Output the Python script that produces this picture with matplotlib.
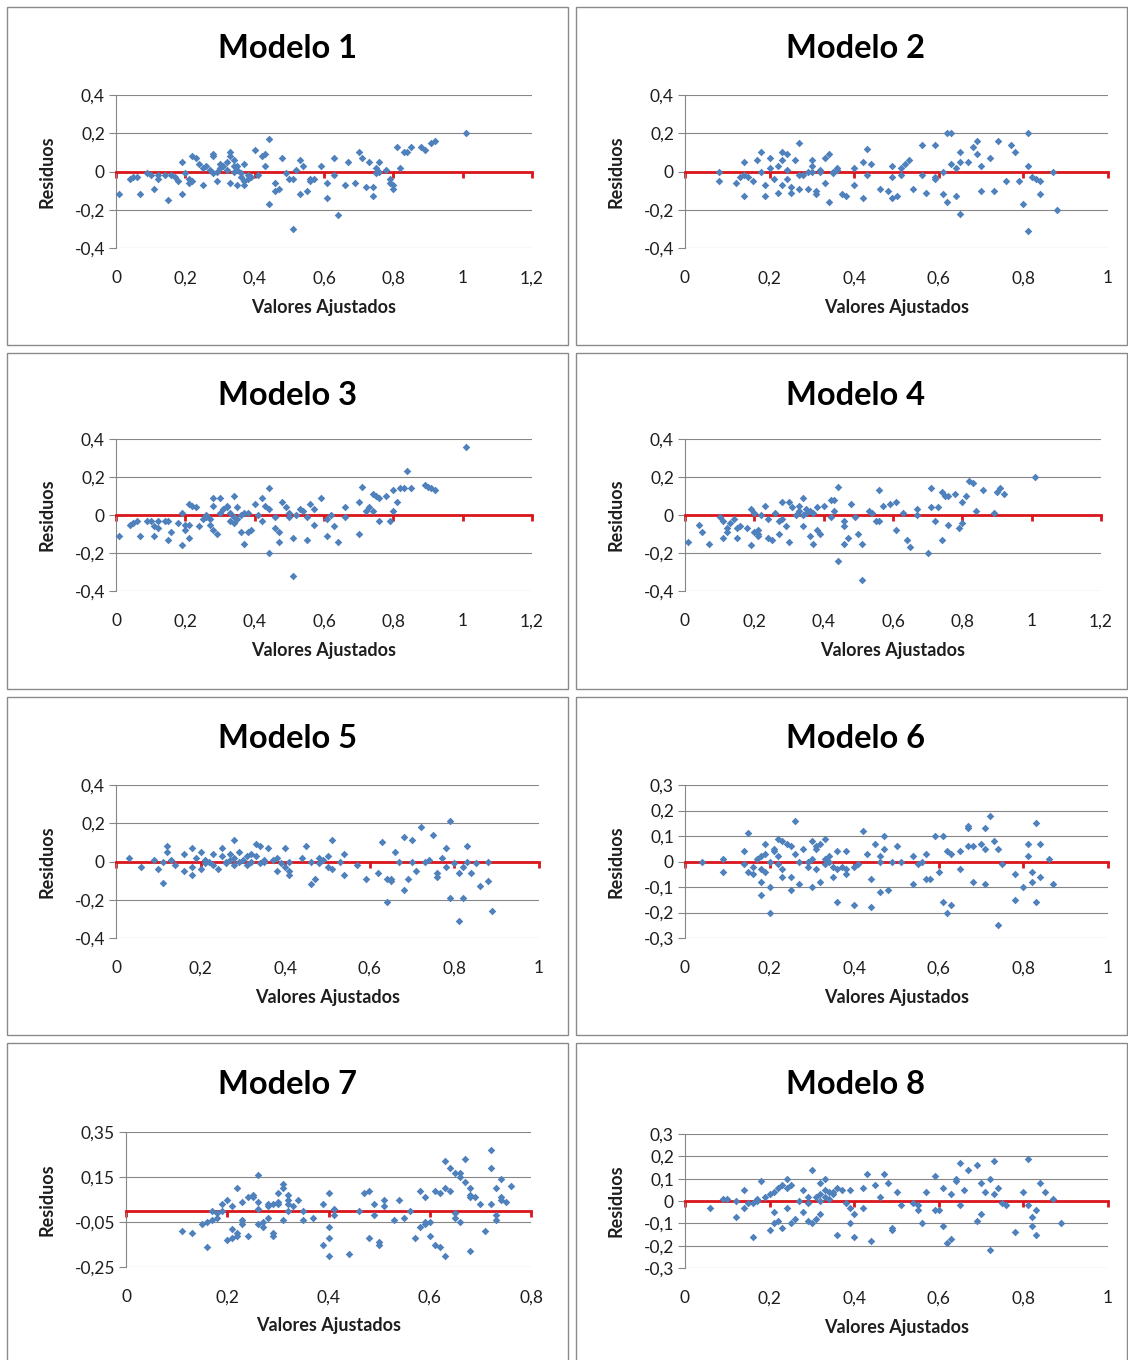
import matplotlib.pyplot as plt
from matplotlib.patches import Rectangle

# residuos vs valores ajustados (x = ajustado, y = residuo)
modelo1 = [(0.01, -0.12), (0.04, -0.04), (0.05, -0.03), (0.06, -0.03), (0.07, -0.12), (0.09, -0.01), (0.10, -0.02),
           (0.11, -0.09), (0.12, -0.04), (0.12, -0.02), (0.14, -0.02), (0.15, -0.15), (0.16, -0.02), (0.17, -0.03),
           (0.18, -0.05), (0.19, -0.12), (0.19, 0.05), (0.20, -0.01), (0.21, -0.06), (0.21, -0.04), (0.22, 0.08),
           (0.22, -0.05), (0.23, 0.07), (0.24, 0.04), (0.25, -0.07), (0.25, 0.02), (0.26, 0.03), (0.27, 0.01),
           (0.28, 0.08), (0.28, 0.09), (0.28, -0.01), (0.29, 0.0), (0.29, -0.05), (0.30, 0.04), (0.30, 0.02),
           (0.31, 0.03), (0.32, 0.05), (0.32, 0.01), (0.33, 0.08), (0.33, 0.10), (0.33, -0.06), (0.34, 0.03),
           (0.34, 0.0), (0.34, 0.06), (0.35, 0.01), (0.35, -0.07), (0.35, 0.03), (0.36, -0.03), (0.36, -0.01),
           (0.37, -0.05), (0.37, 0.04), (0.37, -0.07), (0.38, -0.02), (0.38, -0.04), (0.39, -0.03), (0.40, 0.11),
           (0.41, -0.02), (0.42, 0.08), (0.43, 0.03), (0.43, 0.09), (0.44, 0.17), (0.44, -0.17), (0.46, -0.06),
           (0.46, -0.10), (0.47, -0.09), (0.48, 0.07), (0.49, -0.01), (0.50, -0.04), (0.51, -0.04), (0.51, -0.30),
           (0.52, 0.01), (0.53, -0.12), (0.53, 0.06), (0.54, 0.03), (0.55, -0.10), (0.56, -0.04), (0.56, -0.05),
           (0.57, -0.04), (0.59, 0.03), (0.61, -0.14), (0.61, -0.06), (0.63, 0.07), (0.63, -0.02), (0.64, -0.23),
           (0.66, -0.07), (0.67, 0.05), (0.69, -0.06), (0.70, 0.10), (0.71, 0.07), (0.72, -0.08), (0.73, 0.05),
           (0.74, -0.08), (0.74, -0.13), (0.75, 0.02), (0.75, -0.01), (0.76, 0.0), (0.76, 0.05), (0.78, 0.01),
           (0.79, -0.04), (0.79, -0.06), (0.80, -0.09), (0.80, -0.07), (0.81, 0.13), (0.82, 0.02), (0.83, 0.10),
           (0.84, 0.10), (0.85, 0.13), (0.88, 0.13), (0.89, 0.11), (0.91, 0.15), (0.92, 0.16), (1.01, 0.20)]

modelo2 = [(0.08, 0.0), (0.08, -0.05), (0.12, -0.06), (0.13, -0.03), (0.14, -0.13), (0.14, 0.05), (0.14, -0.02),
           (0.15, -0.03), (0.16, -0.05), (0.17, 0.06), (0.18, 0.10), (0.18, 0.0), (0.19, -0.13), (0.19, -0.07),
           (0.20, 0.07), (0.20, 0.02), (0.21, -0.04), (0.22, -0.11), (0.22, 0.03), (0.23, 0.10), (0.23, -0.07),
           (0.23, 0.06), (0.24, 0.09), (0.24, -0.04), (0.24, 0.01), (0.25, -0.08), (0.25, -0.11), (0.26, 0.06),
           (0.27, 0.15), (0.27, -0.02), (0.27, -0.09), (0.28, -0.02), (0.29, 0.0), (0.29, -0.09), (0.30, 0.06),
           (0.30, 0.03), (0.30, 0.0), (0.31, -0.10), (0.31, -0.12), (0.32, 0.01), (0.32, 0.0), (0.33, 0.07),
           (0.33, -0.06), (0.34, 0.09), (0.34, -0.16), (0.35, -0.01), (0.35, 0.0), (0.36, 0.02), (0.36, 0.01),
           (0.37, -0.12), (0.38, -0.13), (0.40, 0.02), (0.40, -0.07), (0.42, 0.05), (0.42, -0.14), (0.43, 0.12),
           (0.43, -0.02), (0.44, 0.04), (0.46, -0.09), (0.48, -0.10), (0.49, -0.14), (0.49, -0.03), (0.49, 0.03),
           (0.50, -0.13), (0.51, 0.02), (0.51, -0.02), (0.52, 0.04), (0.53, 0.06), (0.54, -0.09), (0.56, 0.14),
           (0.56, -0.02), (0.57, -0.11), (0.59, 0.14), (0.59, -0.04), (0.59, -0.03), (0.61, 0.0), (0.61, -0.12),
           (0.62, -0.16), (0.62, 0.20), (0.63, 0.04), (0.63, 0.20), (0.64, -0.13), (0.64, 0.02), (0.65, 0.05),
           (0.65, -0.22), (0.65, 0.10), (0.67, 0.05), (0.68, 0.13), (0.69, 0.16), (0.69, 0.09), (0.70, -0.10),
           (0.70, 0.03), (0.72, 0.07), (0.73, -0.10), (0.74, 0.16), (0.76, -0.05), (0.77, 0.14), (0.78, 0.10),
           (0.79, -0.05), (0.80, -0.17), (0.81, 0.20), (0.81, 0.03), (0.81, -0.31), (0.82, -0.03), (0.83, -0.04),
           (0.84, -0.05), (0.84, -0.12), (0.87, 0.0), (0.88, -0.20)]

modelo3 = [(0.01, -0.11), (0.04, -0.05), (0.05, -0.04), (0.06, -0.03), (0.07, -0.11), (0.09, -0.03), (0.10, -0.03),
           (0.11, -0.11), (0.11, -0.06), (0.12, -0.07), (0.12, -0.03), (0.14, -0.03), (0.15, -0.13), (0.15, -0.03),
           (0.16, -0.09), (0.18, -0.04), (0.19, -0.16), (0.19, 0.01), (0.20, -0.05), (0.20, -0.08), (0.21, -0.12),
           (0.21, -0.05), (0.21, 0.06), (0.22, 0.05), (0.23, 0.04), (0.24, -0.06), (0.25, -0.02), (0.26, -0.01),
           (0.26, 0.0), (0.27, -0.05), (0.27, -0.02), (0.28, 0.05), (0.28, 0.09), (0.28, -0.08), (0.29, -0.10),
           (0.30, 0.09), (0.30, 0.01), (0.31, 0.03), (0.32, 0.05), (0.32, 0.04), (0.33, 0.01), (0.33, -0.03),
           (0.34, 0.10), (0.34, -0.04), (0.34, -0.01), (0.35, -0.02), (0.35, 0.04), (0.36, -0.09), (0.36, 0.0),
           (0.37, -0.15), (0.37, 0.01), (0.38, -0.09), (0.38, 0.01), (0.39, -0.08), (0.40, 0.06), (0.41, 0.0),
           (0.42, 0.09), (0.42, -0.03), (0.43, 0.05), (0.44, 0.14), (0.44, 0.03), (0.44, -0.20), (0.46, -0.01),
           (0.46, -0.07), (0.47, -0.09), (0.47, -0.14), (0.48, 0.07), (0.49, 0.04), (0.50, 0.01), (0.50, -0.01),
           (0.51, -0.32), (0.51, -0.12), (0.52, 0.0), (0.53, 0.03), (0.54, 0.02), (0.55, -0.13), (0.55, -0.01),
           (0.56, 0.06), (0.57, 0.03), (0.57, -0.05), (0.59, 0.09), (0.61, -0.11), (0.61, -0.02), (0.62, 0.0),
           (0.63, -0.06), (0.64, -0.14), (0.66, -0.01), (0.66, 0.04), (0.70, -0.10), (0.70, 0.07), (0.71, 0.15),
           (0.72, 0.02), (0.73, 0.04), (0.74, 0.02), (0.74, 0.11), (0.75, 0.10), (0.76, 0.09), (0.76, -0.03),
           (0.78, 0.10), (0.79, -0.03), (0.80, 0.02), (0.80, 0.13), (0.81, 0.07), (0.82, 0.14), (0.83, 0.14),
           (0.84, 0.23), (0.85, 0.14), (0.89, 0.16), (0.90, 0.15), (0.91, 0.14), (0.92, 0.13), (1.01, 0.36)]

modelo4 = [(0.01, -0.14), (0.04, -0.05), (0.05, -0.09), (0.07, -0.15), (0.10, -0.01), (0.11, -0.12), (0.11, -0.03),
           (0.12, -0.07), (0.12, -0.09), (0.13, -0.04), (0.14, -0.02), (0.15, -0.12), (0.15, -0.07), (0.16, -0.06),
           (0.18, -0.07), (0.19, -0.16), (0.19, 0.03), (0.20, 0.01), (0.20, -0.09), (0.21, -0.10), (0.21, -0.11),
           (0.21, -0.08), (0.22, 0.0), (0.23, 0.05), (0.24, -0.12), (0.24, -0.02), (0.25, -0.13), (0.26, 0.01),
           (0.27, -0.03), (0.27, -0.10), (0.28, 0.07), (0.28, -0.02), (0.29, -0.06), (0.30, -0.14), (0.30, 0.07),
           (0.31, 0.04), (0.32, 0.0), (0.33, 0.05), (0.33, 0.02), (0.34, 0.09), (0.34, 0.0), (0.34, -0.06),
           (0.35, 0.03), (0.35, 0.01), (0.36, 0.02), (0.36, -0.11), (0.37, 0.01), (0.37, -0.15), (0.38, 0.04),
           (0.38, -0.08), (0.39, -0.10), (0.40, 0.05), (0.42, 0.08), (0.42, -0.01), (0.43, 0.08), (0.43, 0.02),
           (0.44, 0.15), (0.44, -0.24), (0.46, -0.06), (0.46, -0.03), (0.46, -0.15), (0.47, -0.12), (0.48, 0.06),
           (0.49, -0.01), (0.50, -0.10), (0.51, -0.34), (0.51, -0.15), (0.53, 0.02), (0.54, 0.01), (0.55, -0.03),
           (0.56, 0.13), (0.56, -0.03), (0.57, 0.05), (0.59, 0.06), (0.61, -0.08), (0.61, 0.07), (0.63, 0.01),
           (0.64, -0.13), (0.65, -0.17), (0.67, 0.0), (0.67, 0.03), (0.70, -0.20), (0.71, 0.04), (0.71, 0.14),
           (0.72, -0.03), (0.73, 0.04), (0.74, -0.13), (0.74, 0.12), (0.75, 0.10), (0.76, -0.05), (0.76, 0.10),
           (0.78, 0.11), (0.79, -0.07), (0.80, 0.07), (0.80, -0.04), (0.81, 0.10), (0.82, 0.18), (0.83, 0.17),
           (0.84, 0.02), (0.86, 0.13), (0.89, 0.01), (0.90, 0.12), (0.91, 0.14), (0.92, 0.11), (1.01, 0.20)]

modelo5 = [(0.03, 0.02), (0.06, -0.03), (0.09, 0.01), (0.10, -0.04), (0.11, -0.11), (0.11, 0.0), (0.12, 0.08),
           (0.12, 0.05), (0.13, 0.01), (0.14, -0.02), (0.16, 0.04), (0.16, -0.05), (0.18, 0.07), (0.18, -0.07),
           (0.18, -0.03), (0.19, 0.02), (0.20, -0.04), (0.20, 0.05), (0.21, 0.01), (0.21, -0.01), (0.22, 0.0),
           (0.23, -0.02), (0.23, 0.04), (0.24, -0.04), (0.25, 0.07), (0.25, 0.03), (0.26, -0.01), (0.26, 0.0),
           (0.27, 0.01), (0.27, 0.04), (0.28, 0.11), (0.28, 0.02), (0.28, -0.02), (0.29, 0.05), (0.29, 0.0),
           (0.30, 0.01), (0.31, -0.02), (0.31, 0.03), (0.32, 0.04), (0.32, 0.0), (0.33, 0.09), (0.33, 0.03),
           (0.34, 0.08), (0.34, -0.01), (0.35, 0.01), (0.35, 0.0), (0.36, 0.07), (0.37, 0.01), (0.38, -0.05),
           (0.38, 0.02), (0.39, -0.01), (0.40, 0.07), (0.40, -0.03), (0.41, -0.07), (0.41, 0.0), (0.41, -0.05),
           (0.44, 0.02), (0.45, 0.08), (0.46, 0.0), (0.46, -0.12), (0.47, -0.09), (0.48, 0.02), (0.48, -0.01),
           (0.49, 0.01), (0.50, 0.03), (0.50, -0.03), (0.51, -0.04), (0.51, 0.11), (0.53, 0.0), (0.54, -0.07),
           (0.54, 0.04), (0.57, -0.02), (0.59, -0.09), (0.62, -0.06), (0.63, 0.10), (0.64, -0.09), (0.64, -0.21),
           (0.65, -0.09), (0.65, -0.10), (0.66, 0.05), (0.67, 0.0), (0.68, 0.13), (0.68, -0.15), (0.69, -0.09),
           (0.70, 0.11), (0.70, 0.0), (0.71, -0.05), (0.72, 0.18), (0.73, 0.0), (0.74, 0.01), (0.75, 0.14),
           (0.76, -0.06), (0.76, -0.08), (0.77, 0.02), (0.78, 0.07), (0.78, -0.03), (0.79, 0.21), (0.79, -0.19),
           (0.80, -0.01), (0.81, -0.31), (0.81, -0.06), (0.82, -0.19), (0.82, -0.03), (0.83, 0.0), (0.83, 0.08),
           (0.84, -0.06), (0.85, -0.01), (0.86, -0.13), (0.88, -0.10), (0.88, 0.0), (0.89, -0.26)]

modelo6 = [(0.04, 0.0), (0.09, -0.04), (0.09, 0.01), (0.14, 0.04), (0.14, -0.01), (0.15, 0.11), (0.15, -0.04),
           (0.16, -0.05), (0.16, -0.02), (0.17, 0.01), (0.18, 0.02), (0.18, -0.08), (0.18, -0.13), (0.18, -0.03),
           (0.19, 0.03), (0.19, 0.07), (0.19, -0.04), (0.20, -0.20), (0.20, 0.0), (0.20, -0.10), (0.21, 0.04),
           (0.21, 0.05), (0.22, -0.01), (0.22, 0.02), (0.22, 0.09), (0.23, 0.08), (0.23, -0.03), (0.23, -0.06),
           (0.24, 0.07), (0.25, -0.11), (0.25, -0.06), (0.25, 0.06), (0.26, 0.16), (0.26, 0.03), (0.27, -0.09),
           (0.27, 0.0), (0.28, 0.05), (0.29, -0.02), (0.29, 0.0), (0.30, -0.10), (0.30, 0.08), (0.30, 0.01),
           (0.31, -0.03), (0.31, 0.05), (0.31, 0.06), (0.32, -0.08), (0.32, 0.07), (0.33, 0.01), (0.33, -0.01),
           (0.33, 0.09), (0.34, 0.02), (0.34, 0.0), (0.35, -0.02), (0.35, -0.06), (0.36, -0.16), (0.36, -0.03),
           (0.36, 0.04), (0.37, -0.02), (0.38, 0.04), (0.38, -0.05), (0.38, -0.03), (0.40, -0.17), (0.40, -0.02),
           (0.41, -0.01), (0.42, 0.12), (0.43, 0.03), (0.44, -0.07), (0.44, -0.18), (0.45, 0.07), (0.46, 0.02),
           (0.46, -0.12), (0.46, 0.0), (0.47, 0.10), (0.47, 0.05), (0.48, -0.11), (0.49, 0.0), (0.50, 0.06),
           (0.51, 0.0), (0.54, 0.02), (0.54, -0.09), (0.55, -0.01), (0.56, 0.0), (0.57, -0.07), (0.57, 0.03),
           (0.58, -0.07), (0.59, 0.10), (0.60, -0.04), (0.61, 0.10), (0.61, -0.16), (0.62, -0.20), (0.62, 0.04),
           (0.63, 0.03), (0.63, -0.17), (0.65, 0.04), (0.65, -0.03), (0.67, 0.06), (0.67, 0.13), (0.67, 0.14),
           (0.68, 0.06), (0.68, -0.08), (0.70, 0.07), (0.71, 0.13), (0.71, 0.05), (0.71, -0.09), (0.72, 0.18),
           (0.73, 0.08), (0.74, 0.05), (0.74, -0.25), (0.75, -0.01), (0.78, -0.05), (0.78, -0.15), (0.80, -0.10),
           (0.81, 0.07), (0.81, 0.02), (0.82, -0.04), (0.82, -0.08), (0.83, 0.15), (0.83, -0.16), (0.84, -0.06),
           (0.84, 0.07), (0.86, 0.01), (0.87, -0.09)]

modelo7 = [(0.11, -0.09), (0.13, -0.10), (0.15, -0.06), (0.16, -0.05), (0.16, -0.16), (0.17, -0.04), (0.17, 0.0),
           (0.18, -0.03), (0.18, -0.01), (0.19, 0.0), (0.19, 0.03), (0.20, 0.05), (0.20, -0.13), (0.21, -0.12),
           (0.21, 0.02), (0.21, -0.08), (0.22, -0.11), (0.22, -0.10), (0.22, 0.10), (0.23, -0.04), (0.23, -0.06),
           (0.23, 0.04), (0.24, 0.06), (0.24, -0.11), (0.25, 0.06), (0.25, 0.07), (0.26, 0.04), (0.26, 0.16),
           (0.26, 0.01), (0.26, -0.06), (0.27, -0.07), (0.27, -0.05), (0.28, 0.02), (0.28, -0.03), (0.28, 0.03),
           (0.29, -0.11), (0.29, -0.10), (0.29, 0.03), (0.30, 0.03), (0.30, 0.08), (0.30, 0.04), (0.31, -0.04),
           (0.31, 0.12), (0.31, 0.10), (0.32, 0.0), (0.32, 0.05), (0.32, 0.03), (0.32, 0.07), (0.33, 0.02),
           (0.34, 0.05), (0.35, 0.0), (0.35, -0.04), (0.37, -0.03), (0.39, -0.15), (0.39, 0.03), (0.40, -0.20),
           (0.40, 0.08), (0.40, -0.07), (0.40, -0.12), (0.41, -0.02), (0.41, 0.01), (0.44, -0.19), (0.46, 0.0),
           (0.47, 0.08), (0.48, 0.09), (0.48, -0.12), (0.49, 0.03), (0.49, -0.02), (0.50, -0.14), (0.50, -0.15),
           (0.51, 0.05), (0.51, 0.02), (0.53, -0.04), (0.54, 0.05), (0.55, -0.03), (0.56, 0.0), (0.57, -0.12),
           (0.58, -0.07), (0.58, 0.09), (0.59, -0.06), (0.59, -0.05), (0.59, 0.06), (0.60, -0.05), (0.60, -0.11),
           (0.61, 0.09), (0.61, -0.15), (0.62, -0.16), (0.62, 0.08), (0.63, 0.22), (0.63, 0.10), (0.63, -0.20),
           (0.64, 0.09), (0.64, 0.19), (0.65, 0.17), (0.65, -0.03), (0.65, -0.01), (0.66, 0.15), (0.66, -0.05),
           (0.66, 0.17), (0.67, 0.13), (0.67, 0.23), (0.68, 0.10), (0.68, 0.06), (0.68, 0.07), (0.68, -0.18),
           (0.69, 0.06), (0.70, 0.03), (0.71, -0.09), (0.72, 0.27), (0.72, 0.19), (0.72, 0.03), (0.73, -0.02),
           (0.73, -0.04), (0.73, 0.10), (0.74, 0.05), (0.74, 0.06), (0.74, 0.14), (0.75, 0.04), (0.76, 0.11)]

modelo8 = [(0.06, -0.03), (0.09, 0.01), (0.10, 0.01), (0.12, -0.07), (0.12, 0.0), (0.14, -0.03), (0.14, 0.05),
           (0.15, -0.01), (0.16, -0.16), (0.16, -0.01), (0.17, 0.01), (0.17, 0.0), (0.18, 0.09), (0.19, 0.02),
           (0.20, -0.13), (0.20, 0.03), (0.21, 0.04), (0.21, -0.05), (0.21, -0.10), (0.22, 0.06), (0.22, -0.09),
           (0.23, 0.07), (0.23, -0.12), (0.24, 0.10), (0.24, -0.03), (0.24, 0.06), (0.25, 0.07), (0.25, -0.10),
           (0.26, -0.08), (0.27, 0.0), (0.28, 0.05), (0.28, -0.05), (0.29, -0.09), (0.29, -0.01), (0.29, 0.02),
           (0.30, 0.14), (0.30, -0.10), (0.31, -0.08), (0.31, 0.02), (0.32, 0.0), (0.32, 0.08), (0.32, -0.06),
           (0.32, 0.03), (0.33, 0.05), (0.33, 0.02), (0.33, 0.10), (0.34, 0.04), (0.34, 0.01), (0.35, 0.03),
           (0.35, 0.04), (0.36, 0.06), (0.36, -0.15), (0.37, 0.05), (0.38, -0.01), (0.39, 0.05), (0.39, -0.03),
           (0.39, -0.10), (0.40, -0.06), (0.40, -0.16), (0.42, 0.06), (0.42, -0.03), (0.43, 0.12), (0.44, -0.18),
           (0.45, 0.07), (0.46, 0.02), (0.47, 0.12), (0.48, 0.08), (0.49, -0.13), (0.49, -0.12), (0.50, 0.04),
           (0.51, -0.02), (0.54, -0.01), (0.55, -0.04), (0.55, -0.02), (0.56, -0.10), (0.57, 0.04), (0.59, 0.11),
           (0.59, -0.04), (0.60, -0.04), (0.61, 0.06), (0.61, -0.11), (0.62, -0.19), (0.63, -0.17), (0.63, 0.03),
           (0.64, 0.09), (0.64, 0.10), (0.65, -0.02), (0.65, 0.17), (0.66, 0.05), (0.67, 0.14), (0.69, 0.16),
           (0.69, -0.09), (0.70, 0.08), (0.70, -0.06), (0.71, 0.04), (0.72, 0.10), (0.72, -0.22), (0.73, 0.03),
           (0.73, 0.18), (0.74, 0.06), (0.75, -0.01), (0.76, -0.02), (0.78, -0.14), (0.80, 0.04), (0.81, 0.19),
           (0.81, -0.02), (0.82, -0.07), (0.82, -0.11), (0.83, -0.04), (0.83, -0.15), (0.84, 0.08), (0.85, 0.04),
           (0.87, 0.01), (0.89, -0.10)]

titulos = ['Modelo 1', 'Modelo 2', 'Modelo 3', 'Modelo 4', 'Modelo 5', 'Modelo 6', 'Modelo 7', 'Modelo 8']
datos = [modelo1, modelo2, modelo3, modelo4, modelo5, modelo6, modelo7, modelo8]

xt_12 = [0, 0.2, 0.4, 0.6, 0.8, 1.0, 1.2]
xl_12 = ['0', '0,2', '0,4', '0,6', '0,8', '1', '1,2']
xt_10 = [0, 0.2, 0.4, 0.6, 0.8, 1.0]
xl_10 = ['0', '0,2', '0,4', '0,6', '0,8', '1']
xt_08 = [0, 0.2, 0.4, 0.6, 0.8]
xl_08 = ['0', '0,2', '0,4', '0,6', '0,8']
yt_04 = [-0.4, -0.2, 0, 0.2, 0.4]
yl_04 = ['-0,4', '-0,2', '0', '0,2', '0,4']
yt_03 = [-0.3, -0.2, -0.1, 0, 0.1, 0.2, 0.3]
yl_03 = ['-0,3', '-0,2', '-0,1', '0', '0,1', '0,2', '0,3']
yt_35 = [-0.25, -0.05, 0.15, 0.35]
yl_35 = ['-0,25', '-0,05', '0,15', '0,35']

ejes_x = [(xt_12, xl_12), (xt_10, xl_10), (xt_12, xl_12), (xt_12, xl_12),
          (xt_10, xl_10), (xt_10, xl_10), (xt_08, xl_08), (xt_10, xl_10)]
ejes_y = [(yt_04, yl_04), (yt_04, yl_04), (yt_04, yl_04), (yt_04, yl_04),
          (yt_04, yl_04), (yt_03, yl_03), (yt_35, yl_35), (yt_03, yl_03)]

# area de trazado de cada grafico en pixeles: izquierda, derecha, arriba, abajo
areas = [(116, 532, 95, 248), (685, 1108, 95, 248),
         (116, 532, 439, 591), (685, 1101, 439, 591),
         (116, 539, 785, 938), (685, 1108, 785, 938),
         (126, 531, 1132, 1267), (685, 1108, 1134, 1268)]
cajas_x = [(7, 568), (576, 1127)]
cajas_y = [(7, 345), (353, 689), (697, 1035), (1043, 1380)]
titulo_x = [287, 856]
etiqueta_y_x = [47, 616]

W, H = 1128, 1360
AZUL = '#4F81BD'
ROJO = '#D9161B'
GRIS = '#868686'
TEXTO = '#1e1e1e'

plt.rcParams['font.family'] = ['Lato', 'DejaVu Sans']
fig = plt.figure(figsize=(W / 100, H / 100), dpi=100)

for fila in range(4):
    for col in range(2):
        x0, x1 = cajas_x[col]
        y0, y1 = cajas_y[fila]
        fig.patches.append(Rectangle((x0 / W, 1 - y1 / H), (x1 - x0) / W, (y1 - y0) / H,
                                     transform=fig.transFigure, fill=False,
                                     edgecolor='#8a8a8a', linewidth=1))

for i in range(8):
    fila, col = divmod(i, 2)
    l, r, t, b = areas[i]
    ax = fig.add_axes([l / W, 1 - b / H, (r - l) / W, (b - t) / H])
    xs = [p[0] for p in datos[i]]
    ys = [p[1] for p in datos[i]]
    ax.scatter(xs, ys, marker='D', s=15, color=AZUL, linewidths=0, zorder=3, clip_on=False)

    xt, xl = ejes_x[i]
    yt, yl = ejes_y[i]
    ax.set_xlim(xt[0], xt[-1])
    ax.set_ylim(yt[0], yt[-1])
    ax.set_yticks(yt, yl)
    ax.set_xticks(xt)
    ax.yaxis.grid(True, color=GRIS, linewidth=0.8)
    ax.set_axisbelow(True)

    for s in ['top', 'right']:
        ax.spines[s].set_visible(False)
    ax.spines['left'].set_color(GRIS)
    ax.spines['left'].set_linewidth(0.8)
    ax.spines['bottom'].set_position(('data', 0))
    ax.spines['bottom'].set_color(ROJO)
    ax.spines['bottom'].set_linewidth(2)
    ax.spines['bottom'].set_zorder(2.6)

    ax.tick_params(axis='x', direction='out', length=4, width=2, color=ROJO, labelbottom=False)
    ax.tick_params(axis='y', direction='out', length=5, width=0.8, color=GRIS,
                   labelsize=12.5, labelcolor=TEXTO, pad=3)

    sec = ax.secondary_xaxis('bottom')
    sec.set_xticks(xt, xl)
    sec.tick_params(length=0, pad=16, labelsize=12.5, labelcolor=TEXTO)
    sec.spines['bottom'].set_visible(False)

    ytop = cajas_y[fila][0]
    fig.text(titulo_x[col] / W, 1 - (ytop + 42) / H, titulos[i], ha='center', va='center',
             fontsize=23.5, fontweight='bold', color='black')
    fig.text((l + r) / 2 / W, 1 - (b + 59) / H, 'Valores Ajustados', ha='center', va='center',
             fontsize=13, fontweight='bold', color=TEXTO)
    fig.text(etiqueta_y_x[col] / W, 1 - (t + b) / 2 / H, 'Residuos', ha='center', va='center',
             rotation=90, fontsize=13, fontweight='bold', color=TEXTO)

fig.savefig('out.png', dpi=100, facecolor='white')
